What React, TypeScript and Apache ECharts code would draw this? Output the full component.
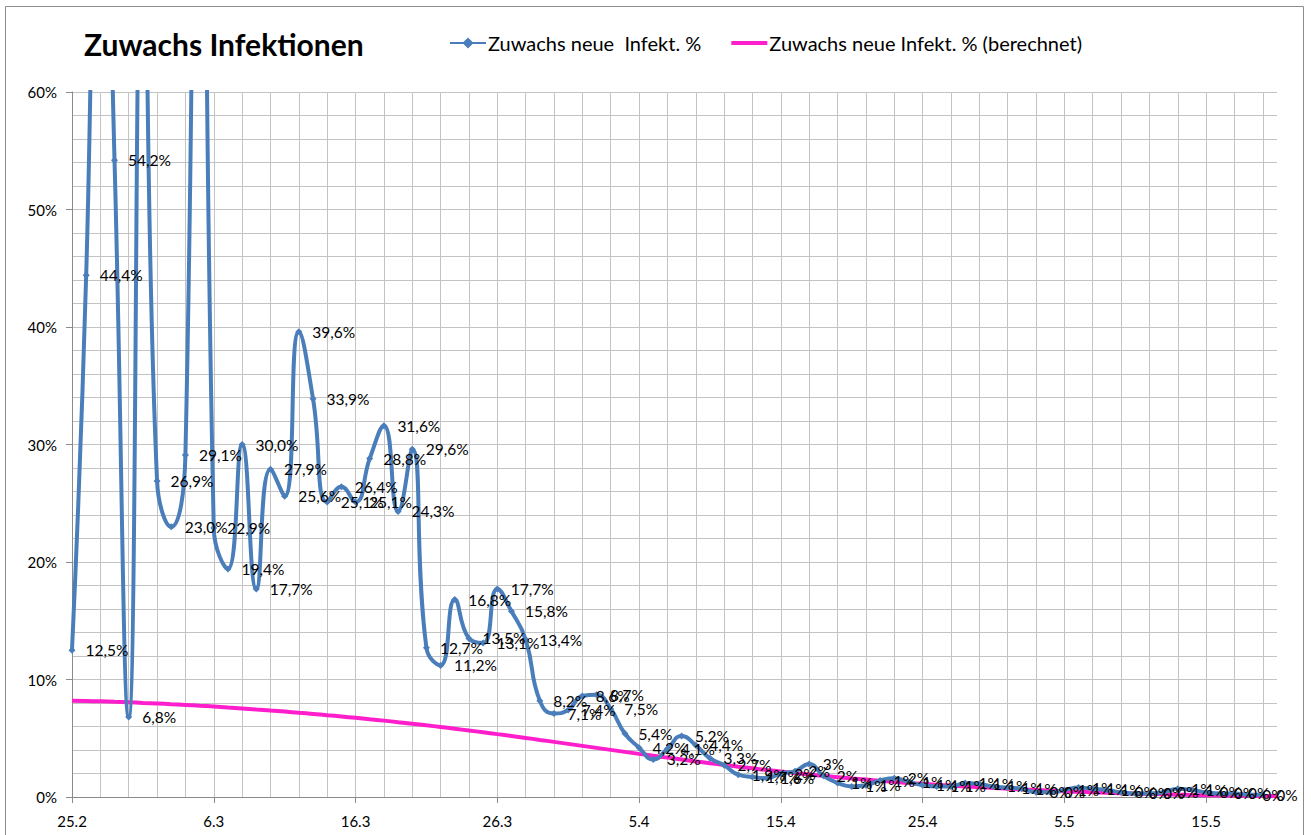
import React, { useEffect, useRef } from 'react';
import * as echarts from 'echarts';

const dates = [
  '25.2', '26.2', '27.2', '28.2', '29.2',
  '1.3', '2.3', '3.3', '4.3', '5.3', '6.3', '7.3', '8.3', '9.3', '10.3', '11.3', '12.3', '13.3', '14.3', '15.3',
  '16.3', '17.3', '18.3', '19.3', '20.3', '21.3', '22.3', '23.3', '24.3', '25.3', '26.3', '27.3', '28.3', '29.3', '30.3', '31.3',
  '1.4', '2.4', '3.4', '4.4', '5.4', '6.4', '7.4', '8.4', '9.4', '10.4', '11.4', '12.4', '13.4', '14.4', '15.4',
  '16.4', '17.4', '18.4', '19.4', '20.4', '21.4', '22.4', '23.4', '24.4', '25.4', '26.4', '27.4', '28.4', '29.4', '30.4',
  '1.5', '2.5', '3.5', '4.5', '5.5', '6.5', '7.5', '8.5', '9.5', '10.5', '11.5', '12.5', '13.5', '14.5', '15.5',
  '16.5', '17.5', '18.5', '19.5', '20.5',
];

// Zuwachs neue Infekt. % (values above 60 % are cut off in the chart)
const growthActual = [
  12.5, 44.4, 95, 54.2, 6.8, 78, 26.9, 23.0, 29.1, 130,
  22.9, 19.4, 30.0, 17.7, 27.9, 25.6, 39.6, 33.9, 25.1, 26.4,
  25.1, 28.8, 31.6, 24.3, 29.6, 12.7, 11.2, 16.8, 13.5, 13.1,
  17.7, 15.8, 13.4, 8.2, 7.1, 7.4, 8.6, 8.7, 7.5, 5.4,
  4.2, 3.2, 4.1, 5.2, 4.4, 3.3, 2.7, 1.9, 1.7, 1.6,
  2.0, 2.2, 2.8, 1.8, 1.2, 0.9, 1.0, 1.4, 1.6, 1.3,
  1.0, 0.9, 0.9, 1.2, 1.1, 0.9, 0.8, 0.7, 0.4, 0.4,
  0.6, 0.8, 0.7, 0.6, 0.4, 0.3, 0.3, 0.4, 0.7, 0.6,
  0.4, 0.3, 0.3, 0.2, 0.2,
];

// Zuwachs neue Infekt. % (berechnet)
const growthComputed = [
  8.20, 8.17, 8.14, 8.10, 8.06, 8.01, 7.96, 7.90, 7.84, 7.77,
  7.70, 7.62, 7.54, 7.45, 7.36, 7.27, 7.17, 7.07, 6.96, 6.85,
  6.74, 6.62, 6.50, 6.37, 6.24, 6.10, 5.96, 5.81, 5.66, 5.51,
  5.35, 5.19, 5.03, 4.86, 4.69, 4.52, 4.35, 4.18, 4.01, 3.84,
  3.67, 3.51, 3.35, 3.19, 3.03, 2.88, 2.73, 2.58, 2.44, 2.30,
  2.17, 2.04, 1.92, 1.80, 1.69, 1.58, 1.48, 1.38, 1.29, 1.20,
  1.12, 1.04, 0.97, 0.90, 0.83, 0.77, 0.71, 0.65, 0.60, 0.55,
  0.48, 0.44, 0.40, 0.36, 0.32, 0.29, 0.26, 0.23, 0.20, 0.17,
  0.15, 0.13, 0.11, 0.09, 0.08, 0.07,
];

// data labels switch from one decimal to whole percent from this index on
const INTEGER_LABEL_FROM = 50;

const SERIES_ACTUAL = 'Zuwachs neue  Infekt. %';
const SERIES_COMPUTED = 'Zuwachs neue Infekt. % (berechnet)';

const BLUE = '#4a7ebb';
const PINK = '#ff1ecb';
const GRID = '#c3c3c3';
const AXIS = '#8a8a8a';
const FONT = 'Lato, "Open Sans", sans-serif';

function fmtLabel(idx: number, v: number): string {
  if (idx >= INTEGER_LABEL_FROM) return `${Math.round(v)}%`;
  return `${v.toFixed(1).replace('.', ',')}%`;
}

export default function App() {
  const ref = useRef<HTMLDivElement>(null);

  useEffect(() => {
    if (!ref.current) return;
    const chart = echarts.init(ref.current, null, { renderer: 'svg' });
    chart.setOption({
      animation: false,
      backgroundColor: '#ffffff',
      textStyle: { fontFamily: FONT },
      title: {
        text: 'Zuwachs Infektionen',
        left: 84,
        top: 29,
        padding: 0,
        textStyle: { fontFamily: FONT, fontWeight: 'bold', fontSize: 30, color: '#000' },
      },
      legend: {
        data: [
          { name: SERIES_ACTUAL },
          { name: SERIES_COMPUTED, icon: 'path://M0,0H36V4H0Z' },
        ],
        left: 449,
        top: 33,
        padding: 0,
        itemWidth: 36,
        itemHeight: 14,
        itemGap: 30,
        textStyle: { fontFamily: FONT, fontSize: 20, color: '#000', padding: [0, 0, 0, -3] },
      },
      grid: { left: 72, right: 34, top: 92, bottom: 38 },
      xAxis: {
        type: 'category',
        data: dates,
        boundaryGap: false,
        axisLine: { show: true, lineStyle: { color: AXIS, width: 1 } },
        axisTick: { show: true, interval: 9, length: 6, lineStyle: { color: AXIS } },
        axisLabel: { interval: 9, fontFamily: FONT, fontSize: 15, color: '#000', margin: 16 },
        splitLine: { show: true, interval: 1, lineStyle: { color: GRID, width: 1 } },
      },
      yAxis: {
        type: 'value',
        min: 0,
        max: 60,
        interval: 10,
        axisLine: { show: true, lineStyle: { color: AXIS, width: 1 } },
        axisTick: { show: true, length: 6, lineStyle: { color: AXIS } },
        axisLabel: { formatter: '{value}%', fontFamily: FONT, fontSize: 15, color: '#000', margin: 15 },
        splitLine: { show: true, lineStyle: { color: GRID, width: 1 } },
        minorTick: { show: false, splitNumber: 5 },
        minorSplitLine: { show: true, lineStyle: { color: GRID, width: 1 } },
      },
      graphic: [
        {
          type: 'rect',
          silent: true,
          z: -10,
          shape: { x: 5.5, y: 6.5, width: 1298, height: 840 },
          style: { fill: 'none', stroke: '#8c8c8c', lineWidth: 1 },
        },
      ],
      series: [
        {
          name: SERIES_COMPUTED,
          type: 'line',
          data: growthComputed,
          smooth: true,
          symbol: 'none',
          showSymbol: false,
          lineStyle: { color: PINK, width: 4 },
          itemStyle: { color: PINK },
          z: 2,
        },
        {
          name: SERIES_ACTUAL,
          type: 'line',
          data: growthActual,
          smooth: 0.5,
          symbol: 'diamond',
          symbolSize: 7,
          clip: true,
          lineStyle: { color: BLUE, width: 4 },
          itemStyle: { color: BLUE },
          label: {
            show: true,
            position: 'right',
            distance: 10,
            fontFamily: FONT,
            fontSize: 15.5,
            color: '#000',
            formatter: (p: any) => fmtLabel(p.dataIndex, p.value),
          },
          z: 3,
        },
      ],
    });
    return () => chart.dispose();
  }, []);

  return (
    <div
      ref={ref}
      style={{ position: 'absolute', left: 0, top: 0, width: 1311, height: 835, background: '#fff' }}
    />
  );
}
